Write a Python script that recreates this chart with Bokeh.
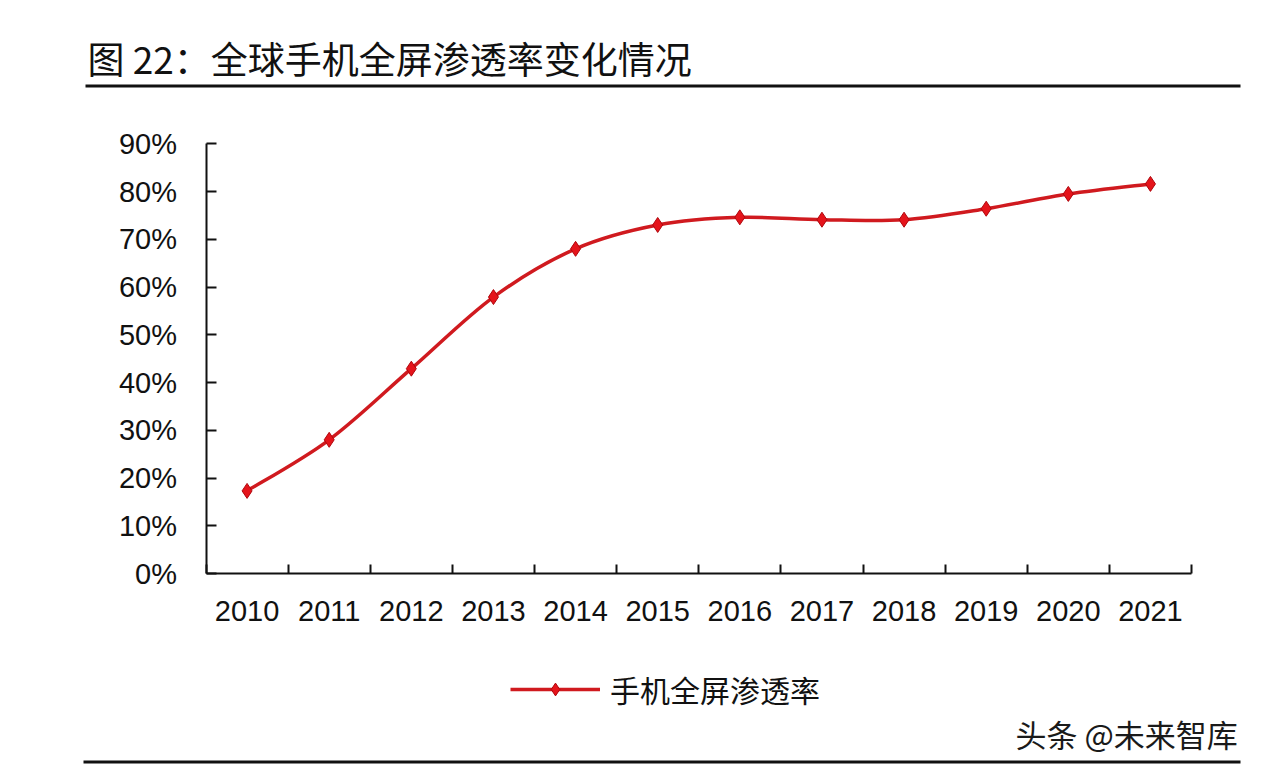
from bokeh.plotting import figure
from bokeh.models import (Range1d, FixedTicker, PrintfTickFormatter, Label,
                          BoxAnnotation, Legend, LegendItem, LinearAxis)
from bokeh.embed import file_html
from bokeh.resources import INLINE

# ---------------- data ----------------
title_text = "图 22：全球手机全屏渗透率变化情况"
series_name = "手机全屏渗透率"
watermark_text = "头条 @未来智库"
years = ["2010", "2011", "2012", "2013", "2014", "2015",
         "2016", "2017", "2018", "2019", "2020", "2021"]
rates = [17.3, 28.0, 42.9, 57.9, 68.0, 73.0, 74.6, 74.1, 74.1, 76.4, 79.5, 81.6]
y_ticks = [0, 10, 20, 30, 40, 50, 60, 70, 80, 90]

# ---------------- layout (canvas pixels) ----------------
W, H = 1268, 776
AX_L, AX_R, AX_T, AX_B = 205.5, 1191.0, 143.3, 573.0   # plot area edges
CJK = "Noto Sans CJK SC"
LAT = "Liberation Sans"
INK = "#111111"
RED_LINE = "#d01a1f"
RED_FILL = "#e5141b"
RED_EDGE = "#b0060c"

n = len(years)
xs = [i + 0.5 for i in range(n)]
ymax = y_ticks[-1]

# whole canvas is the frame; axes are placed with fixed_location
kx = (AX_R - AX_L) / n
ky = (AX_B - AX_T) / ymax
x_range = Range1d(-AX_L / kx, n + (W - AX_R) / kx)
y_range = Range1d(-(H - AX_B) / ky, ymax + AX_T / ky)

p = figure(width=W, height=H, output_backend="svg", toolbar_location=None,
           x_range=x_range, y_range=y_range,
           x_axis_location=None, y_axis_location=None, min_border=0)
p.outline_line_color = None
p.background_fill_color = "white"
p.border_fill_color = "white"
p.grid.visible = False

# x axis: labels at category centres, ticks at category boundaries
xa = LinearAxis(fixed_location=0, bounds=(0, n))
xa.ticker = FixedTicker(ticks=xs, minor_ticks=list(range(n + 1)))
xa.major_label_overrides = {x: y for x, y in zip(xs, years)}
xa.major_tick_in = 0
xa.major_tick_out = 0
xa.minor_tick_in = 9
xa.minor_tick_out = 0
xa.minor_tick_line_color = INK
xa.minor_tick_line_width = 2
xa.axis_line_color = INK
xa.axis_line_width = 2
xa.major_label_text_font = LAT
xa.major_label_text_font_size = "29px"
xa.major_label_text_color = INK
xa.major_label_standoff = 27
p.add_layout(xa, "below")

ya = LinearAxis(fixed_location=0, bounds=(0, ymax))
ya.ticker = FixedTicker(ticks=y_ticks, minor_ticks=[])
ya.formatter = PrintfTickFormatter(format="%d%%")
ya.major_tick_in = 10
ya.major_tick_out = 0
ya.major_tick_line_color = INK
ya.major_tick_line_width = 2
ya.minor_tick_line_color = None
ya.axis_line_color = INK
ya.axis_line_width = 2
ya.major_label_text_font = LAT
ya.major_label_text_font_size = "29px"
ya.major_label_text_color = INK
ya.major_label_standoff = 29
p.add_layout(ya, "left")

# smoothed line through the data points (cubic Bezier segments)
pts = list(zip(xs, rates))
bx0, by0, bx1, by1, bcx0, bcy0, bcx1, bcy1 = [], [], [], [], [], [], [], []
for i in range(n - 1):
    p0 = pts[i - 1] if i > 0 else pts[i]
    p1 = pts[i]
    p2 = pts[i + 1]
    p3 = pts[i + 2] if i + 2 < n else pts[i + 1]
    bx0.append(p1[0]); by0.append(p1[1])
    bx1.append(p2[0]); by1.append(p2[1])
    bcx0.append(p1[0] + (p2[0] - p0[0]) / 6.0)
    bcy0.append(p1[1] + (p2[1] - p0[1]) / 6.0)
    bcx1.append(p2[0] - (p3[0] - p1[0]) / 6.0)
    bcy1.append(p2[1] - (p3[1] - p1[1]) / 6.0)

bez = p.bezier(x0=bx0, y0=by0, x1=bx1, y1=by1, cx0=bcx0, cy0=bcy0,
               cx1=bcx1, cy1=bcy1, line_color=RED_LINE, line_width=3.5)
sc = p.scatter(x=xs, y=rates, marker="diamond", size=15,
               fill_color=RED_FILL, line_color=RED_EDGE, line_width=1)

legend = Legend(items=[LegendItem(label=series_name, renderers=[bez, sc])],
                location=(510, H - 711), orientation="horizontal",
                glyph_width=90, glyph_height=32, label_standoff=10,
                padding=0, margin=0, border_line_color=None,
                background_fill_alpha=0,
                label_text_font=CJK, label_text_font_size="30px",
                label_text_color=INK)
p.add_layout(legend)

# title, rules and watermark (screen units: y measured up from the bottom)
p.add_layout(Label(x=87, y=H - 57, x_units="screen", y_units="screen",
                   text=title_text, text_baseline="middle", text_align="left",
                   text_font=CJK, text_font_size="37px", text_color=INK))
p.add_layout(BoxAnnotation(left=85, right=1240, top=H - 84, bottom=H - 87,
                           left_units="screen", right_units="screen",
                           top_units="screen", bottom_units="screen",
                           fill_color=INK, fill_alpha=1.0, line_alpha=0))
p.add_layout(BoxAnnotation(left=83, right=1240, top=H - 760, bottom=H - 763,
                           left_units="screen", right_units="screen",
                           top_units="screen", bottom_units="screen",
                           fill_color=INK, fill_alpha=1.0, line_alpha=0))
p.add_layout(Label(x=1015, y=H - 733, x_units="screen", y_units="screen",
                   text=watermark_text, text_baseline="middle", text_align="left",
                   text_font=CJK, text_font_size="31px", text_color="#1a1a1a"))

open("out.html", "w").write(file_html(p, INLINE))
